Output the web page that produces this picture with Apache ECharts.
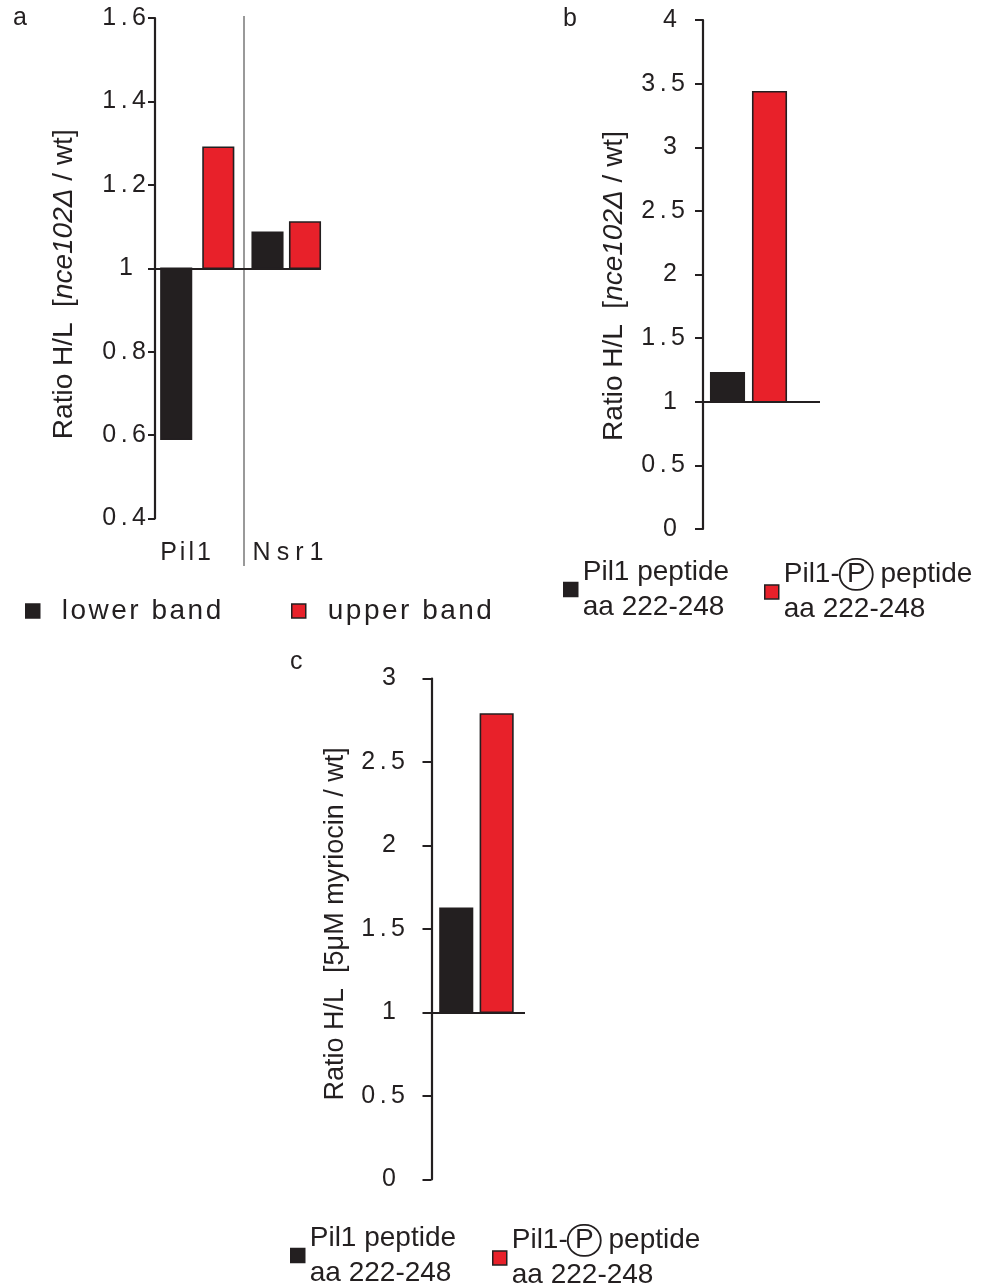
<!DOCTYPE html>
<html>
<head>
<meta charset="utf-8">
<script src="https://cdn.jsdelivr.net/npm/echarts@6/dist/echarts.min.js"></script>
<style>
  html, body { margin: 0; padding: 0; background: #ffffff; }
  #chart { width: 984px; height: 1286px; }
</style>
</head>
<body>
<div id="chart"></div>
<script>
// ---------------- DATA ----------------
const PANEL_A_CATEGORIES = ['Pil1', 'Nsr1'];
const PANEL_A_SERIES = ['lower band', 'upper band'];
const PANEL_A_LOWER = [0.59, 1.086];
const PANEL_A_UPPER = [1.29, 1.111];

const PANEL_BC_SERIES = ['Pil1 peptide', 'Pil1-P peptide'];
const PEPTIDE_RANGE = 'aa 222-248';
const PANEL_B_VALUES = [1.228, 3.436];
const PANEL_C_VALUES = [1.623, 2.787];

const BASELINE = 1;
const AXIS_A = { min: 0.4, max: 1.6, interval: 0.2 };
const AXIS_B = { min: 0, max: 4, interval: 0.5 };
const AXIS_C = { min: 0, max: 3, interval: 0.5 };

const TITLE_AB = ['Ratio H/L  [', 'nce102Δ', ' / wt]'];
const TITLE_C = 'Ratio H/L  [5μM myriocin / wt]';
const PANEL_LETTERS = ['a', 'b', 'c'];

// ---------------- STYLE ----------------
const FONT = '"Liberation Sans", Arial, Helvetica, sans-serif';
const INK = '#231f20';
const BLACK = '#231f20';
const RED = '#e8212a';

// letter tracking of the original typesetting (drawn glyph by glyph)
const TRACK = { 'Pil1': 3, 'Nsr1': 6, 'lower band': 2.5, 'upper band': 2.5 };
(function () {
  const proto = CanvasRenderingContext2D.prototype;
  const orig = proto.fillText;
  proto.fillText = function (t, x, y, m) {
    let ls = TRACK[t];
    if (ls === undefined && /^[0-9.]+$/.test(t) && t.length > 1) ls = 4.5;
    if (!ls) {
      return m === undefined ? orig.call(this, t, x, y) : orig.call(this, t, x, y, m);
    }
    const chars = Array.from(t);
    const widths = chars.map(ch => this.measureText(ch).width);
    const total = widths.reduce((a, b) => a + b, 0) + ls * (chars.length - 1);
    const align = this.textAlign;
    let cx = x;
    if (align === 'center') cx = x - total / 2;
    else if (align === 'right' || align === 'end') cx = x - total;
    this.textAlign = 'left';
    for (let i = 0; i < chars.length; i++) {
      orig.call(this, chars[i], cx, y);
      cx += widths[i] + ls;
    }
    this.textAlign = align;
  };
})();

function barRenderer(offsets, width) {
  return function (params, api) {
    const xi = api.value(0);
    const v = api.value(1);
    const top = api.coord([xi, v]);
    const base = api.coord([xi, BASELINE]);
    const cx = top[0] + offsets[params.dataIndex];
    return {
      type: 'rect',
      shape: { x: cx - width / 2, y: Math.min(top[1], base[1]), width: width, height: Math.abs(base[1] - top[1]) },
      style: api.style({ stroke: INK, lineWidth: 1.6 })
    };
  };
}

function yAxisDef(gridIndex, ax, margin, intPad, tickLen, title, gap, pad) {
  return {
    type: 'value', gridIndex: gridIndex,
    min: ax.min, max: ax.max, interval: ax.interval,
    axisLine: { show: true, lineStyle: { color: INK, width: 2.2 } },
    axisTick: { show: true, length: tickLen, lineStyle: { color: INK, width: 2 } },
    splitLine: { show: false },
    axisLabel: {
      margin: margin, fontSize: 25, color: INK, fontFamily: FONT,
      formatter: function (v) {
        const s = String(Math.round(v * 100) / 100);
        return s.indexOf('.') < 0 ? '{s|' + s + '}' : s;
      },
      rich: { s: { fontSize: 25, color: INK, fontFamily: FONT, padding: [0, intPad, 0, 0] } }
    },
    name: title,
    nameLocation: 'middle',
    nameGap: gap,
    nameRotate: 90,
    nameTextStyle: {
      fontSize: 28, color: INK, fontFamily: FONT, padding: pad,
      rich: {
        n: { fontSize: 28, color: INK, fontFamily: FONT },
        i: { fontSize: 28, color: INK, fontFamily: FONT, fontStyle: 'italic' },
        c: { fontSize: 27, color: INK, fontFamily: FONT }
      }
    }
  };
}

const titleAB = '{n|' + TITLE_AB[0] + '}{i|' + TITLE_AB[1] + '}{n|' + TITLE_AB[2] + '}';
const titleC = '{c|' + TITLE_C + '}';

function legendDef(name, left, top) {
  return {
    data: [name], left: left, top: top, padding: 0,
    orient: 'horizontal', icon: 'rect', itemWidth: 14, itemHeight: 14,
    selectedMode: false,
    itemStyle: { borderColor: INK, borderWidth: 1.5 },
    textStyle: {
      fontSize: 28, color: INK, fontFamily: FONT,
      rich: {
        g: { fontSize: 28, color: INK, fontFamily: FONT, padding: [0, 0, 0, 17], lineHeight: 30 },
        t: { fontSize: 28, color: INK, fontFamily: FONT, lineHeight: 35 },
        p: { fontSize: 28, color: INK, fontFamily: FONT, width: 33, height: 31, lineHeight: 31, align: 'center',
             borderColor: INK, borderWidth: 1.8, borderRadius: 17 }
      }
    },
    formatter: function (n) {
      if (n === PANEL_A_SERIES[0] || n === PANEL_A_SERIES[1]) return '{g|' + n + '}';
      if (n === PANEL_BC_SERIES[0]) return '{t|' + n + '}\n{t|' + PEPTIDE_RANGE + '}';
      const parts = n.split('-P ');
      return '{t|' + parts[0] + '-}{p|P}{t| ' + parts[1] + '}\n{t|' + PEPTIDE_RANGE + '}';
    }
  };
}

const baseMark = {
  silent: true, symbol: 'none', animation: false,
  label: { show: false },
  lineStyle: { color: INK, width: 2, type: 'solid' },
  data: [{ yAxis: BASELINE }]
};

const option = {
  animation: false,
  backgroundColor: '#ffffff',
  textStyle: { fontFamily: FONT, color: INK },
  grid: [
    { left: 155, top: 18, width: 166, height: 500.5 },
    { left: 703, top: 20, width: 117, height: 509 },
    { left: 431.5, top: 678.5, width: 93.5, height: 500.8 }
  ],
  xAxis: [
    {
      type: 'category', gridIndex: 0, data: PANEL_A_CATEGORIES,
      axisLine: { show: false }, axisTick: { show: false }, splitLine: { show: false },
      axisLabel: {
        interval: 0, margin: 22, fontSize: 25, color: INK, fontFamily: FONT,
        formatter: function (v) { return v === PANEL_A_CATEGORIES[0] ? '{l|' + v + '}' : '{r|' + v + '}'; },
        rich: {
          l: { fontSize: 25, color: INK, fontFamily: FONT, padding: [0, 22, 0, 0] },
          r: { fontSize: 25, color: INK, fontFamily: FONT, padding: [0, 0, 0, 17] }
        }
      }
    },
    { type: 'category', gridIndex: 1, data: [PEPTIDE_RANGE], axisLine: { show: false }, axisTick: { show: false }, axisLabel: { show: false } },
    { type: 'category', gridIndex: 2, data: [PEPTIDE_RANGE], axisLine: { show: false }, axisTick: { show: false }, axisLabel: { show: false } }
  ],
  yAxis: [
    yAxisDef(0, AXIS_A, 9, 13, 7, titleAB, 77, [0, 32, 0, 0]),
    yAxisDef(1, AXIS_B, 18, 8, 8, titleAB, 75, [0, 23, 0, 0]),
    yAxisDef(2, AXIS_C, 26.5, 9, 9, titleC, 82, [0, 0, 0, 10])
  ],
  legend: [
    legendDef(PANEL_A_SERIES[0], 25, 597),
    legendDef(PANEL_A_SERIES[1], 291, 597),
    legendDef(PANEL_BC_SERIES[0], 563, 558),
    legendDef(PANEL_BC_SERIES[1], 764, 558),
    legendDef(PANEL_BC_SERIES[0], 290, 1224),
    legendDef(PANEL_BC_SERIES[1], 492, 1224)
  ],
  series: [
    {
      type: 'custom', name: PANEL_A_SERIES[0], xAxisIndex: 0, yAxisIndex: 0,
      itemStyle: { color: BLACK, borderColor: INK, borderWidth: 1.5 },
      renderItem: barRenderer([-20.3, -12], 30.5),
      encode: { x: 0, y: 1 },
      data: PANEL_A_LOWER.map(function (v, i) { return [i, v]; })
    },
    {
      type: 'custom', name: PANEL_A_SERIES[1], xAxisIndex: 0, yAxisIndex: 0,
      itemStyle: { color: RED, borderColor: INK, borderWidth: 1.5 },
      renderItem: barRenderer([21.8, 25.5], 30.5),
      encode: { x: 0, y: 1 },
      data: PANEL_A_UPPER.map(function (v, i) { return [i, v]; }),
      markLine: baseMark
    },
    {
      type: 'custom', name: PANEL_BC_SERIES[0], xAxisIndex: 1, yAxisIndex: 1,
      itemStyle: { color: BLACK, borderColor: INK, borderWidth: 1.5 },
      renderItem: barRenderer([-34], 33.5),
      encode: { x: 0, y: 1 },
      data: [[0, PANEL_B_VALUES[0]]]
    },
    {
      type: 'custom', name: PANEL_BC_SERIES[1], xAxisIndex: 1, yAxisIndex: 1,
      itemStyle: { color: RED, borderColor: INK, borderWidth: 1.5 },
      renderItem: barRenderer([8], 33.5),
      encode: { x: 0, y: 1 },
      data: [[0, PANEL_B_VALUES[1]]],
      markLine: baseMark
    },
    {
      type: 'custom', name: PANEL_BC_SERIES[0], xAxisIndex: 2, yAxisIndex: 2,
      itemStyle: { color: BLACK, borderColor: INK, borderWidth: 1.5 },
      renderItem: barRenderer([-22], 32.5),
      encode: { x: 0, y: 1 },
      data: [[0, PANEL_C_VALUES[0]]]
    },
    {
      type: 'custom', name: PANEL_BC_SERIES[1], xAxisIndex: 2, yAxisIndex: 2,
      itemStyle: { color: RED, borderColor: INK, borderWidth: 1.5 },
      renderItem: barRenderer([18.4], 32.5),
      encode: { x: 0, y: 1 },
      data: [[0, PANEL_C_VALUES[1]]],
      markLine: baseMark
    }
  ],
  graphic: [
    { type: 'text', left: 13, top: 6, style: { text: PANEL_LETTERS[0], fontSize: 25, fill: INK, fontFamily: FONT } },
    { type: 'text', left: 563, top: 7, style: { text: PANEL_LETTERS[1], fontSize: 25, fill: INK, fontFamily: FONT } },
    { type: 'text', left: 290, top: 650, style: { text: PANEL_LETTERS[2], fontSize: 25, fill: INK, fontFamily: FONT } },
    { type: 'line', silent: true, shape: { x1: 244, y1: 16, x2: 244, y2: 566 }, style: { stroke: '#555555', lineWidth: 1.2 } }
  ]
};

const chart = echarts.init(document.getElementById('chart'), null, { renderer: 'canvas' });
chart.setOption(option);
</script>
</body>
</html>
